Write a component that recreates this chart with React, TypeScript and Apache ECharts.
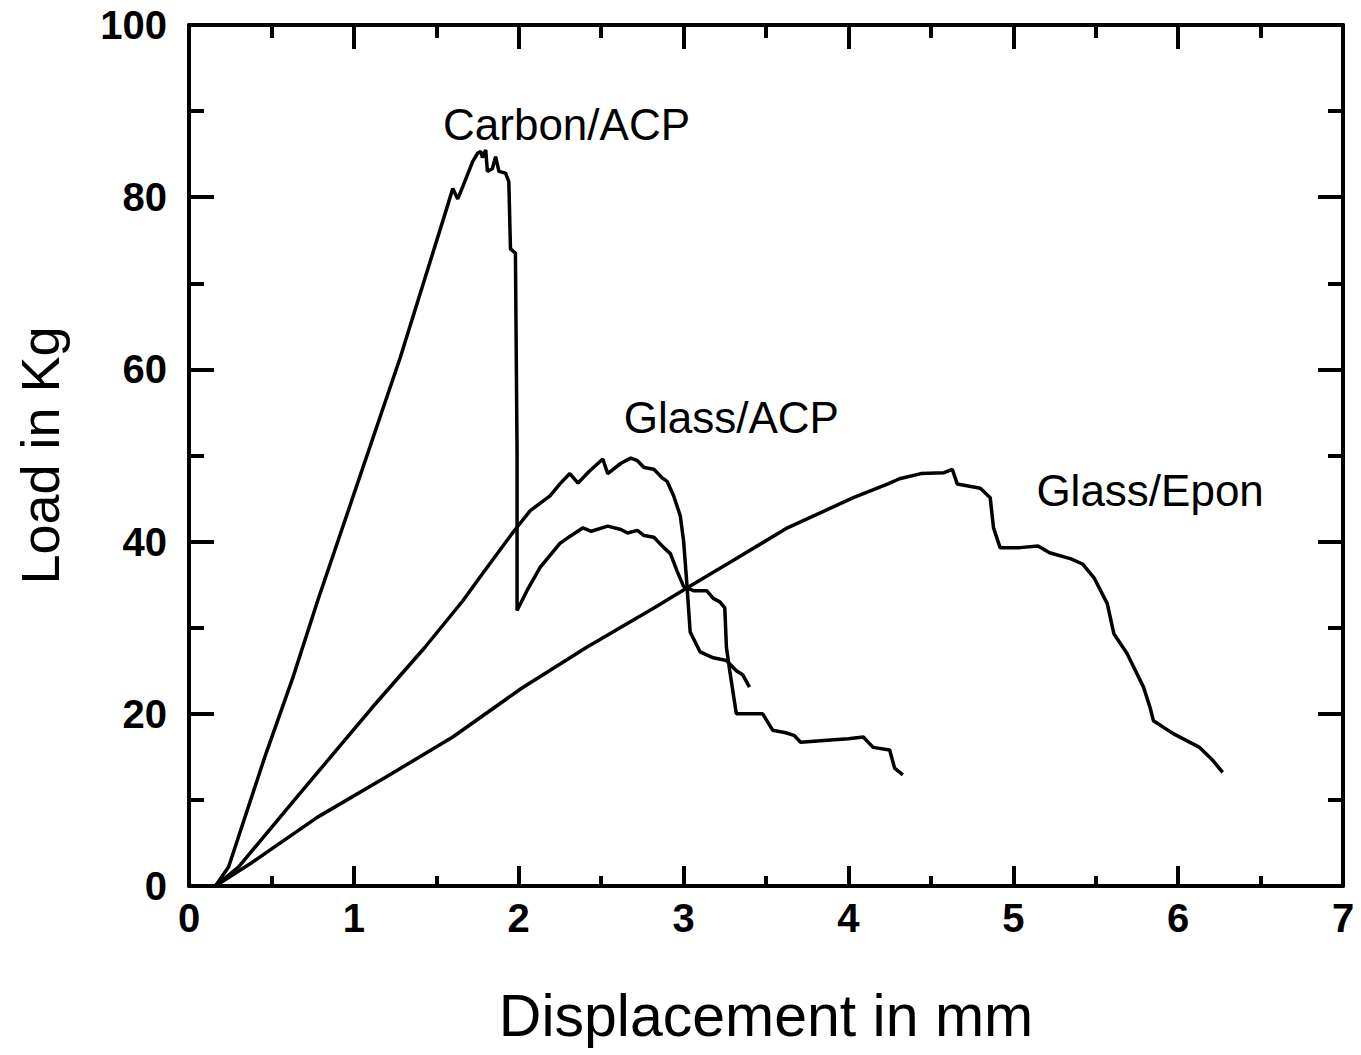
import React, { useEffect, useRef } from "react";
import * as echarts from "echarts";

const carbonACP: [number, number][] = [
  [0.06, 0], [0.16, 0], [0.24, 2.2], [0.46, 15.0], [0.63, 24.2], [0.78, 33.1], [1.28, 61.3],
  [1.56, 78.5], [1.60, 81.0], [1.63, 79.8], [1.66, 81.2], [1.72, 84.1], [1.75, 85.1], [1.77, 85.3],
  [1.78, 84.6], [1.80, 85.5], [1.81, 83.0], [1.84, 83.3], [1.86, 84.7], [1.88, 83.0], [1.92, 82.8],
  [1.94, 81.8], [1.95, 74.0], [1.98, 73.5], [1.99, 50.2], [1.99, 32.0], [2.05, 34.3], [2.13, 37.0],
  [2.25, 39.8], [2.31, 40.6], [2.39, 41.6], [2.44, 41.2], [2.54, 41.8], [2.62, 41.4], [2.66, 41.0],
  [2.72, 41.3], [2.76, 40.7], [2.82, 40.5], [2.88, 39.3], [2.92, 38.6], [2.96, 36.6], [3.00, 34.8],
  [3.06, 34.3], [3.14, 34.3], [3.18, 33.4], [3.22, 33.0], [3.25, 32.3], [3.26, 27.7], [3.28, 25.0],
  [3.32, 20.0], [3.40, 20.0], [3.48, 20.0], [3.54, 18.1], [3.62, 17.8], [3.67, 17.5], [3.71, 16.7],
  [3.85, 16.9], [4.00, 17.1], [4.09, 17.3], [4.15, 16.1], [4.25, 15.8], [4.28, 13.7], [4.33, 12.9],
];

const glassACP: [number, number][] = [
  [0.06, 0], [0.16, 0], [0.30, 2.2], [0.64, 10.0], [1.11, 20.7], [1.43, 27.7], [1.66, 33.1],
  [1.77, 36.0], [1.97, 41.2], [2.07, 43.6], [2.19, 45.3], [2.25, 46.7], [2.31, 47.9], [2.36, 46.8],
  [2.43, 48.2], [2.51, 49.6], [2.54, 47.9], [2.62, 49.1], [2.68, 49.7], [2.72, 49.4], [2.76, 48.6],
  [2.82, 48.4], [2.87, 47.4], [2.90, 47.0], [2.94, 45.3], [2.98, 43.0], [3.00, 40.1], [3.02, 35.1],
  [3.04, 29.5], [3.10, 27.2], [3.18, 26.5], [3.26, 26.2], [3.32, 25.0], [3.36, 24.5], [3.40, 23.1],
];

const glassEpon: [number, number][] = [
  [0.06, 0], [0.16, 0], [0.38, 2.7], [0.78, 8.0], [1.19, 12.6], [1.60, 17.3], [2.02, 23.0],
  [2.41, 27.7], [2.82, 32.3], [3.02, 34.6], [3.30, 37.8], [3.63, 41.6], [4.03, 45.1], [4.24, 46.7],
  [4.31, 47.3], [4.44, 47.9], [4.58, 48.0], [4.63, 48.4], [4.66, 46.7], [4.80, 46.2], [4.86, 45.1],
  [4.88, 41.6], [4.92, 39.3], [5.04, 39.3], [5.15, 39.5], [5.22, 38.7], [5.35, 38.0], [5.42, 37.4],
  [5.49, 35.8], [5.57, 32.8], [5.61, 29.3], [5.69, 27.0], [5.79, 23.1], [5.83, 20.7], [5.85, 19.2],
  [5.97, 17.7], [6.13, 16.1], [6.21, 14.6], [6.27, 13.2],
];

const seriesNames = ["Carbon/ACP", "Glass/ACP", "Glass/Epon"];
const labelPos: [number, number][] = [[2.29, 88.4], [3.29, 54.4], [5.83, 45.9]];

const FONT = "'Liberation Sans', Arial, Helvetica, sans-serif";

export default function App() {
  const ref = useRef<HTMLDivElement>(null);
  useEffect(() => {
    if (!ref.current) return;
    const chart = echarts.init(ref.current, null, { renderer: "svg" });
    const axisCommon = {
      type: "value" as const,
      axisLine: { show: true, onZero: false, lineStyle: { color: "#000", width: 4 } },
      splitLine: { show: false },
      axisTick: { show: true, inside: true, lineStyle: { color: "#000", width: 4 } },
      minorTick: { show: true, splitNumber: 2, lineStyle: { color: "#000", width: 4 } },
    };
    const lineStyle = { color: "#000", width: 3.5 };
    const datasets = [carbonACP, glassACP, glassEpon];
    chart.setOption({
      animation: false,
      backgroundColor: "#fff",
      grid: { left: 189, right: 18, top: 25, bottom: 169, containLabel: false, outerBoundsMode: "none" },
      xAxis: [
        {
          ...axisCommon,
          min: 0, max: 7, interval: 1, position: "bottom",
          axisTick: { ...axisCommon.axisTick, length: 20 },
          minorTick: { ...axisCommon.minorTick, length: 10 },
          axisLabel: { show: true, color: "#000", fontFamily: FONT, fontWeight: "bold", fontSize: 40, margin: 12 },
          name: "Displacement in mm", nameLocation: "middle", nameGap: 100,
          nameTextStyle: { color: "#000", fontFamily: FONT, fontSize: 59 },
        },
        {
          ...axisCommon,
          min: 0, max: 7, interval: 1, position: "top",
          axisTick: { ...axisCommon.axisTick, length: 24 },
          minorTick: { ...axisCommon.minorTick, length: 13 },
          axisLabel: { show: false },
        },
      ],
      yAxis: [
        {
          ...axisCommon,
          min: 0, max: 100, interval: 20, position: "left",
          axisTick: { ...axisCommon.axisTick, length: 25 },
          minorTick: { ...axisCommon.minorTick, length: 15 },
          axisLabel: { show: true, color: "#000", fontFamily: FONT, fontWeight: "bold", fontSize: 40, margin: 22 },
          name: "Load in Kg", nameLocation: "middle", nameGap: 122, nameRotate: 90,
          nameTextStyle: { color: "#000", fontFamily: FONT, fontSize: 54 },
        },
        {
          ...axisCommon,
          min: 0, max: 100, interval: 20, position: "right",
          axisTick: { ...axisCommon.axisTick, length: 25 },
          minorTick: { ...axisCommon.minorTick, length: 15 },
          axisLabel: { show: false },
        },
      ],
      series: datasets.map((d, i) => ({
        name: seriesNames[i],
        type: "line",
        data: d,
        xAxisIndex: 0,
        yAxisIndex: 0,
        showSymbol: false,
        symbol: "none",
        lineStyle,
      })),
    });
    const texts = seriesNames.map((name, i) => {
      const p = chart.convertToPixel({ xAxisIndex: 0, yAxisIndex: 0 }, labelPos[i]) as number[];
      return {
        type: "text",
        x: p[0],
        y: p[1],
        style: {
          text: name, fill: "#000", font: `44px ${FONT}`,
          textAlign: "center", textVerticalAlign: "middle",
        },
      };
    });
    chart.setOption({ graphic: texts });
    return () => chart.dispose();
  }, []);
  return (
    <div
      ref={ref}
      style={{ position: "absolute", left: 0, top: 0, width: 1361, height: 1055, background: "#fff" }}
    />
  );
}
